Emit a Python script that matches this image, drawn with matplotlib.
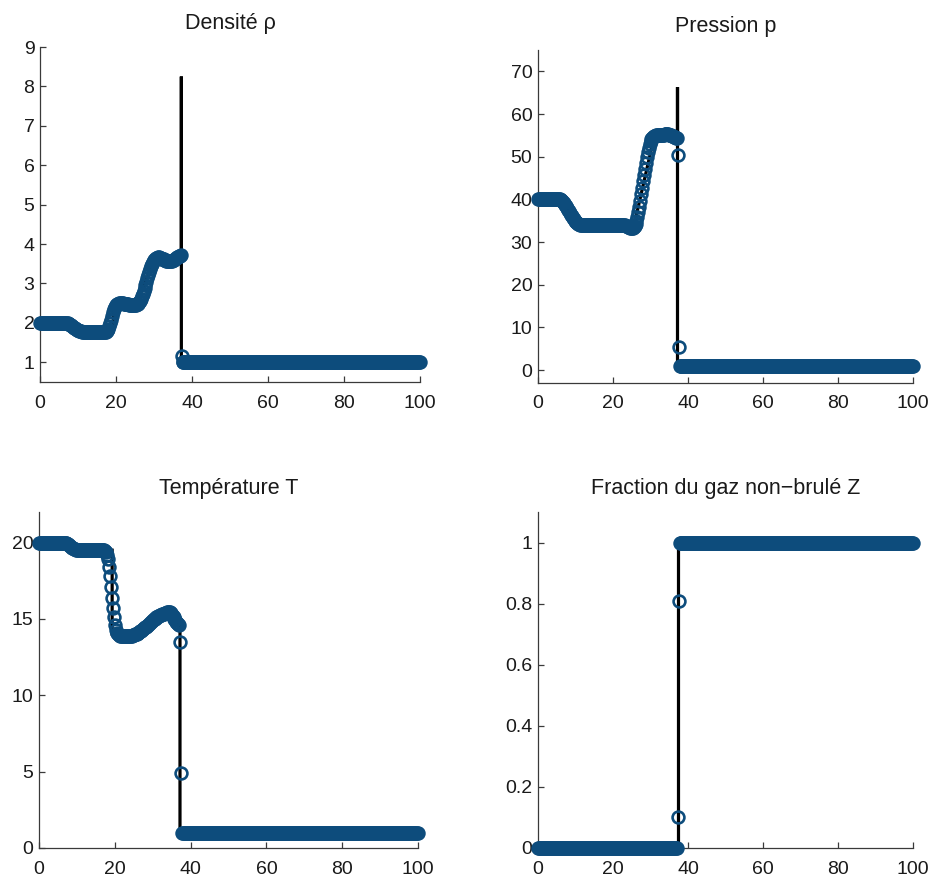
import numpy as np
import matplotlib
matplotlib.use("Agg")
import matplotlib.pyplot as plt

plt.rcParams['font.family'] = ['Liberation Sans', 'DejaVu Sans']

# ---- numerical solution on a uniform mesh (dx = 0.25) ----
x_num = np.linspace(0, 100, 401)

# burnt region x = 0 .. 37.0 (149 cells)
rho_head = ([2.0] * 28
            + [1.995, 1.99, 1.98, 1.97, 1.955, 1.94, 1.92, 1.90, 1.88, 1.86, 1.84, 1.82,
               1.81, 1.80, 1.79, 1.785]
            + [1.78] * 26
            + [1.79, 1.81, 1.85, 1.91, 1.99, 2.08, 2.18, 2.27, 2.35, 2.41, 2.45, 2.48, 2.49, 2.50]
            + [2.50, 2.50, 2.50, 2.50, 2.49, 2.49, 2.48, 2.48, 2.47, 2.47, 2.46, 2.46, 2.45, 2.45]
            + [2.45, 2.45, 2.45, 2.46, 2.47, 2.49, 2.52, 2.56, 2.61, 2.67, 2.74, 2.81, 2.89, 2.97,
               3.05, 3.13, 3.21, 3.29, 3.37, 3.44, 3.50, 3.55, 3.59, 3.62, 3.64, 3.65, 3.66]
            + [3.66, 3.65, 3.64, 3.63, 3.62, 3.61, 3.60, 3.59, 3.58, 3.57, 3.56, 3.56, 3.56, 3.57,
               3.58, 3.59, 3.60, 3.62, 3.64, 3.66, 3.68, 3.69, 3.70, 3.72])
rho_shock = [1.15, 1.0]
rho_tail = [1.0] * 250

p_head = ([40.0] * 24
          + [39.9, 39.8, 39.6, 39.4, 39.1, 38.8, 38.4, 38.0, 37.6, 37.2, 36.8, 36.4, 36.0, 35.6,
             35.3, 35.0, 34.8, 34.6, 34.4, 34.3, 34.2]
          + [34.1] * 4 + [34.0] * 44
          + [33.9, 33.8, 33.7, 33.6, 33.5, 33.4, 33.3, 33.3, 33.3, 33.5, 33.8, 34.3, 35.0, 35.9,
             37.0, 38.3, 39.7, 41.2, 42.7, 44.2, 45.7, 47.2, 48.6, 49.9, 51.1, 52.1, 52.9, 53.6,
             54.1, 54.4, 54.6, 54.8]
          + [54.9, 55.0, 55.0, 55.0, 55.0, 55.0, 55.1, 55.1, 55.2, 55.2, 55.3, 55.3, 55.3, 55.3,
             55.3, 55.2, 55.1, 55.0, 54.9, 54.8, 54.7, 54.6, 54.5, 54.5])
p_shock = [50.5, 5.5]
p_tail = [1.0] * 250

T_head = ([20.0] * 28
          + [19.98, 19.95, 19.92, 19.88, 19.83, 19.78, 19.72, 19.67, 19.62, 19.58, 19.55, 19.52, 19.5]
          + [19.5] * 29
          + [19.45, 19.35, 19.2, 18.9, 18.4, 17.8, 17.1, 16.4, 15.7, 15.1, 14.6, 14.3, 14.1, 14.0]
          + [13.95, 13.92, 13.9, 13.9, 13.9, 13.9, 13.9, 13.9, 13.9, 13.9, 13.9, 13.9, 13.9, 13.9,
             13.9, 13.92, 13.95, 13.98, 14.0, 14.03, 14.06, 14.1, 14.14, 14.18, 14.22]
          + [14.27, 14.32, 14.38, 14.44, 14.5, 14.56, 14.62, 14.68, 14.74, 14.8, 14.86, 14.92,
             14.97, 15.02, 15.06, 15.1, 15.14, 15.17, 15.2, 15.23, 15.26, 15.29, 15.32, 15.35,
             15.38, 15.41, 15.43, 15.45, 15.45, 15.42, 15.36, 15.28, 15.2, 15.1, 15.0, 14.9,
             14.8, 14.72, 14.65, 14.6])
T_shock = [13.5, 4.9]
T_tail = [1.0] * 250

Z_head = [0.0] * 149
Z_shock = [0.10, 0.81]
Z_tail = [1.0] * 250

rho_num = rho_head + rho_shock + rho_tail
p_num = p_head + p_shock + p_tail
T_num = T_head + T_shock + T_tail
Z_num = Z_head + Z_shock + Z_tail

# ---- reference (exact) profiles, piecewise linear ----
x_rho_ex = [0, 7, 10.5, 19.3, 19.3, 25, 30.5, 37.2, 37.2, 37.2, 100]
rho_ex = [2.0, 2.0, 1.78, 1.78, 2.5, 2.45, 3.65, 3.7, 8.25, 1.0, 1.0]

x_p_ex = [0, 6, 11, 24, 25.5, 31, 37.2, 37.2, 37.2, 100]
p_ex = [40, 40, 34, 34, 33.5, 54.8, 54.5, 66.3, 1.0, 1.0]

x_T_ex = [0, 7, 10, 18, 19.3, 19.3, 27, 34.5, 37.2, 37.2, 100]
T_ex = [20, 20, 19.5, 19.5, 19.5, 14, 14, 15.4, 14.6, 1.0, 1.0]

x_Z_ex = [0, 37.2, 37.2, 100]
Z_ex = [0, 0, 1, 1]

titles = ["Densité ρ", "Pression p", "Température T", "Fraction du gaz non−brulé Z"]
x_ticks = [0, 20, 40, 60, 80, 100]
y_ticks = [[1, 2, 3, 4, 5, 6, 7, 8, 9],
           [0, 10, 20, 30, 40, 50, 60, 70],
           [0, 5, 10, 15, 20],
           [0, 0.2, 0.4, 0.6, 0.8, 1]]
y_tick_labels = [["1", "2", "3", "4", "5", "6", "7", "8", "9"],
                 ["0", "10", "20", "30", "40", "50", "60", "70"],
                 ["0", "5", "10", "15", "20"],
                 ["0", "0.2", "0.4", "0.6", "0.8", "1"]]
y_limits = [(0.5, 9), (-3, 75), (0, 22), (0, 1.1)]

W, H = 935, 877
fig = plt.figure(figsize=(W / 100, H / 100), dpi=100)

# axes boxes in pixels: left, right, top, bottom
boxes = [(40, 420, 47, 382), (538, 913, 50, 383),
         (39, 418, 512, 848), (538, 913, 512, 848)]

num_series = [rho_num, p_num, T_num, Z_num]
ex_series = [(x_rho_ex, rho_ex), (x_p_ex, p_ex), (x_T_ex, T_ex), (x_Z_ex, Z_ex)]

blue = "#0d4c7c"
axis_col = "#3a3a3a"

for i in range(4):
    l, r, t, b = boxes[i]
    ax = fig.add_axes([l / W, (H - b) / H, (r - l) / W, (b - t) / H])
    xe, ye = ex_series[i]
    ax.plot(xe, ye, color="black", lw=2.3, zorder=2, solid_joinstyle="miter")
    ax.plot(x_num, num_series[i], linestyle="none", marker="o", ms=8.5, mew=1.9,
            mfc="none", mec=blue, zorder=3, clip_on=False)
    ax.set_xlim(0, 100)
    ax.set_ylim(*y_limits[i])
    ax.set_xticks(x_ticks)
    ax.set_xticklabels([str(v) for v in x_ticks])
    ax.set_yticks(y_ticks[i])
    ax.set_yticklabels(y_tick_labels[i])
    for s in ("top", "right"):
        ax.spines[s].set_visible(False)
    for s in ("left", "bottom"):
        ax.spines[s].set_color(axis_col)
        ax.spines[s].set_linewidth(0.9)
    ax.tick_params(direction="in", length=4, width=0.9, color=axis_col,
                   labelsize=14, labelcolor="#1a1a1a")
    ax.tick_params(axis="x", pad=9)
    ax.tick_params(axis="y", pad=4)
    ax.set_title(titles[i], fontsize=15.5, pad=13, color="#1a1a1a")

fig.savefig("out.png", dpi=100)
